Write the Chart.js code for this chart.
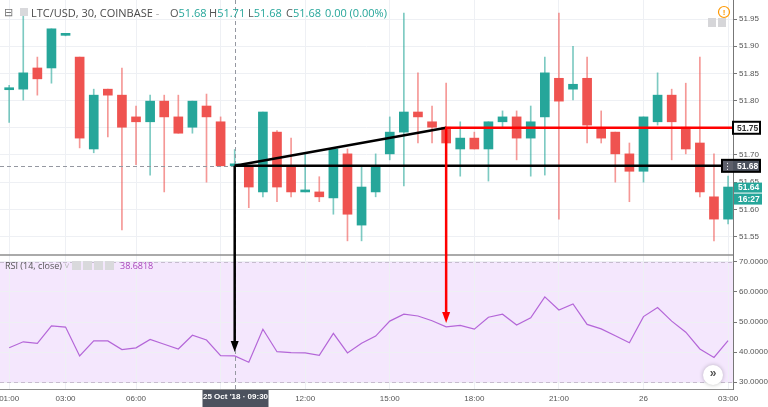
<!DOCTYPE html>
<html>
<head>
<meta charset="utf-8">
<script src="https://cdn.jsdelivr.net/npm/chart.js@4/dist/chart.umd.min.js"></script>
<style>
  body { margin: 0; background: #fff; }
  #wrap { position: relative; width: 768px; height: 407px; overflow: hidden; }
  #chart { position: absolute; left: 0; top: 0; }
  .lg { position: absolute; white-space: nowrap; font-family: "Open Sans", sans-serif; color: #4a4a4a; }
  .lg span { position: absolute; top: 0; }
  .v { color: #26a69a; }
  .k { color: #555; }
  .ico { display: inline-block; background: #d9d9dc; }
</style>
</head>
<body>
<div id="wrap">
  <canvas id="chart" width="768" height="407"></canvas>
  <div class="lg" style="left:0;top:5px;font-size:11px;height:16px;width:400px">
    <span style="left:4px;top:-1px;color:#777">&#8863;</span>
    <span style="left:20px;top:3px;width:8px;height:8px" class="ico"></span>
    <span style="left:31px">LTC/USD, 30, COINBASE <span style="position:static;color:#aaa">-</span></span>
    <span style="left:170px"><b class="k" style="font-weight:normal">O</b><span class="v" style="position:static">51.68</span></span>
    <span style="left:209px"><b class="k" style="font-weight:normal">H</b><span class="v" style="position:static">51.71</span></span>
    <span style="left:248px"><b class="k" style="font-weight:normal">L</b><span class="v" style="position:static">51.68</span></span>
    <span style="left:286px"><b class="k" style="font-weight:normal">C</b><span class="v" style="position:static">51.68</span></span>
    <span style="left:325px" class="v">0.00 (0.00%)</span>
  </div>
  <div class="lg" style="left:0;top:259px;font-size:9px;height:13px;width:200px">
    <span style="left:5px;color:#555">RSI (14, close) <span style="position:static;color:#bbb">&#709;</span></span>
    <span style="left:72px;top:2px;width:9px;height:9px" class="ico"></span>
    <span style="left:83px;top:2px;width:9px;height:9px" class="ico"></span>
    <span style="left:94px;top:2px;width:9px;height:9px" class="ico"></span>
    <span style="left:105px;top:2px;width:9px;height:9px" class="ico"></span>
    <span style="left:120px;color:#ab47bc">38.6818</span>
  </div>
</div>
<script>
// 30-minute candles, LTC/USD (Coinbase), 25-26 Oct 2018
const categories = ["01:00","01:30","02:00","02:30","03:00","03:30","04:00","05:00","05:30","06:00",
  "06:30","07:00","07:30","08:00","08:30","09:00","09:30","10:00","10:30","11:00",
  "11:30","12:00","12:30","13:00","13:30","14:00","14:30","15:00","15:30","16:00",
  "16:30","17:00","17:30","18:00","18:30","19:00","19:30","20:00","20:30","21:00",
  "21:30","22:00","22:30","23:00","23:30","00:00","00:30","01:00","01:30","02:00",
  "02:30","03:00"];
const open = [51.820,51.821,51.860,51.860,51.920,51.880,51.711,51.821,51.810,51.770,
  51.761,51.799,51.770,51.751,51.790,51.761,51.680,51.680,51.632,51.742,
  51.680,51.632,51.632,51.621,51.702,51.571,51.632,51.702,51.742,51.779,
  51.761,51.751,51.711,51.731,51.711,51.761,51.770,51.731,51.770,51.841,
  51.821,51.841,51.750,51.742,51.702,51.670,51.761,51.810,51.751,51.722,
  51.623,51.582];
const high = [51.828,51.961,51.880,51.932,51.921,51.880,51.821,51.821,51.860,51.790,
  51.810,51.810,51.810,51.799,51.812,51.770,51.710,51.680,51.779,51.745,
  51.731,51.702,51.660,51.711,51.711,51.678,51.702,51.770,51.961,51.851,
  51.790,51.832,51.761,51.742,51.761,51.781,51.781,51.790,51.880,51.961,
  51.900,51.880,51.781,51.742,51.722,51.770,51.851,51.821,51.832,51.880,
  51.702,51.661];
const low = [51.760,51.801,51.810,51.832,51.919,51.713,51.704,51.733,51.562,51.682,
  51.663,51.632,51.740,51.740,51.650,51.680,51.680,51.603,51.623,51.614,
  51.623,51.632,51.614,51.591,51.542,51.542,51.623,51.691,51.643,51.722,
  51.722,51.722,51.661,51.711,51.652,51.751,51.691,51.661,51.663,51.582,
  51.801,51.722,51.722,51.650,51.614,51.650,51.755,51.691,51.702,51.623,
  51.542,51.573];
const close = [51.821,51.851,51.840,51.932,51.920,51.731,51.810,51.810,51.751,51.761,
  51.799,51.770,51.740,51.799,51.770,51.680,51.680,51.641,51.779,51.641,
  51.632,51.633,51.623,51.711,51.591,51.641,51.678,51.742,51.779,51.770,
  51.751,51.722,51.731,51.711,51.761,51.770,51.731,51.761,51.851,51.799,
  51.830,51.755,51.731,51.702,51.670,51.770,51.810,51.761,51.711,51.632,
  51.582,51.641];
const rsi = [41.4,43.4,42.9,48.7,48.3,38.7,43.7,43.7,40.8,41.4,
  44.2,42.6,41.0,45.6,44.0,38.8,38.7,36.6,47.6,40.1,
  39.8,39.7,38.9,46.2,39.7,42.9,45.3,50.3,52.6,52.0,
  50.4,48.4,48.9,47.6,51.6,52.6,49.0,51.4,58.4,54.0,
  56.0,49.2,47.7,45.4,43.1,51.8,54.8,50.3,46.6,41.0,
  38.2,43.8];

// Achsen-Beschriftungen
const tickIndex = [0, 4, 9, 15, 21, 27, 33, 39, 45, 51];
const tickText = ["01:00","03:00","06:00","09:00","12:00","15:00","18:00","21:00","26","03:00"];
const priceTicks = [51.55, 51.60, 51.65, 51.70, 51.75, 51.80, 51.85, 51.90, 51.95];
const rsiTicks = [30, 40, 50, 60, 70];

// Zeichnungen auf dem Chart (Index, Preis, Pfeilspitze im RSI)
const markIndex = [16, 31];
const markPrice = [51.68, 51.75];
const arrowTip = [40.0, 49.7];
const lastPrice = 51.64;
const countdown = "16:27";
const crossLabel = "25 Oct '18 \u00b7 09:30";

const green = "#26a69a";
const red = "#ef5350";
const gridColor = "#eef0f4";
const up = open.map((o, i) => close[i] >= o);

function box(ctx, x, y, w, h, fill, stroke, text, color) {
  ctx.fillStyle = fill;
  ctx.fillRect(x, y, w, h);
  if (stroke) {
    ctx.strokeStyle = stroke;
    ctx.lineWidth = 2;
    ctx.strokeRect(x, y, w, h);
  }
  ctx.fillStyle = color;
  ctx.font = "bold 8.5px 'Liberation Sans', Arial, sans-serif";
  ctx.textAlign = "left";
  ctx.textBaseline = "middle";
  ctx.fillText(text, x + 4, y + h / 2 + 0.5);
}

function arrow(ctx, x, y1, y2, color) {
  ctx.strokeStyle = color;
  ctx.fillStyle = color;
  ctx.lineWidth = 2.5;
  ctx.beginPath();
  ctx.moveTo(x, y1);
  ctx.lineTo(x, y2 - 9);
  ctx.stroke();
  ctx.beginPath();
  ctx.moveTo(x - 4, y2 - 11);
  ctx.lineTo(x + 4, y2 - 11);
  ctx.lineTo(x, y2);
  ctx.closePath();
  ctx.fill();
}

// keine automatische Randpolsterung der Achsen
function noPad(s) {
  s.paddingTop = 0; s.paddingBottom = 0; s.paddingLeft = 0; s.paddingRight = 0;
}

const overlay = {
  id: "overlay",
  beforeDraw(chart) {
    // RSI-Band 30..70
    const { ctx, chartArea, scales } = chart;
    const t = scales.yr.getPixelForValue(70), b = scales.yr.getPixelForValue(30);
    ctx.save();
    ctx.fillStyle = "#f4e7fd";
    ctx.fillRect(chartArea.left, t, chartArea.right - chartArea.left, b - t);
    ctx.restore();
  },
  afterDraw(chart) {
    const { ctx, chartArea, scales } = chart;
    const L = chartArea.left, R = chartArea.right;
    ctx.save();

    // RSI 70/30 gestrichelt
    ctx.setLineDash([4, 3]);
    ctx.strokeStyle = "#c7bccf";
    ctx.lineWidth = 1;
    [70, 30].forEach(v => {
      const y = Math.round(scales.yr.getPixelForValue(v)) + 0.5;
      ctx.beginPath(); ctx.moveTo(L, y); ctx.lineTo(R, y); ctx.stroke();
    });

    // Fadenkreuz
    const cx = Math.round(scales.x.getPixelForValue(markIndex[0])) + 0.5;
    const cy = Math.round(scales.y.getPixelForValue(markPrice[0])) + 0.5;
    ctx.strokeStyle = "#9598a1";
    ctx.beginPath(); ctx.moveTo(cx, chartArea.top); ctx.lineTo(cx, chartArea.bottom); ctx.stroke();
    ctx.beginPath(); ctx.moveTo(L, cy); ctx.lineTo(cx, cy); ctx.stroke();
    ctx.setLineDash([]);

    // Trennlinie zwischen Preis und RSI
    const sep = scales.y.bottom;
    ctx.strokeStyle = "#8e8e8e";
    ctx.lineWidth = 1.5;
    ctx.beginPath(); ctx.moveTo(L, sep); ctx.lineTo(R, sep); ctx.stroke();

    // Trendlinie + Linien
    const x0 = scales.x.getPixelForValue(markIndex[0]);
    const x1 = scales.x.getPixelForValue(markIndex[1]);
    const y0 = scales.y.getPixelForValue(markPrice[0]);
    const y1 = scales.y.getPixelForValue(markPrice[1]);
    ctx.lineWidth = 2.5;
    ctx.strokeStyle = "#000";
    ctx.beginPath(); ctx.moveTo(x0, y0); ctx.lineTo(x1, y1); ctx.stroke();
    ctx.beginPath(); ctx.moveTo(x0, y0); ctx.lineTo(R, y0); ctx.stroke();
    arrow(ctx, x0, y0, scales.yr.getPixelForValue(arrowTip[0]), "#000");
    ctx.strokeStyle = "#ff0000";
    ctx.lineWidth = 2.5;
    ctx.beginPath(); ctx.moveTo(x1 - 1, y1); ctx.lineTo(R, y1); ctx.stroke();
    arrow(ctx, x1, y1, scales.yr.getPixelForValue(arrowTip[1]), "#ff0000");

    // Preis-Markierungen an der Achse
    box(ctx, R, y1 - 6, 27, 12, "#fff", "#000", markPrice[1].toFixed(2), "#333");
    ctx.fillStyle = "#5d606b";
    ctx.fillRect(R - 11, y0 - 6, 11, 12);
    ctx.fillStyle = "#fff";
    ctx.fillRect(R - 6, y0 - 3, 1, 1); ctx.fillRect(R - 6, y0, 1, 1); ctx.fillRect(R - 6, y0 + 3, 1, 1);
    box(ctx, R, y0 - 6, 27, 12, "#4c525e", null, markPrice[0].toFixed(2), "#fff");
    ctx.strokeStyle = "#000"; ctx.lineWidth = 2;
    ctx.strokeRect(R - 11, y0 - 6, 38, 12);
    const yl = scales.y.getPixelForValue(lastPrice);
    box(ctx, R + 1, yl - 5, 28, 10, green, null, lastPrice.toFixed(2), "#fff");
    box(ctx, R + 1, yl + 6, 28, 11, green, null, countdown, "#fff");

    // Zeit-Label unten
    const bw = 66;
    ctx.fillStyle = "#4c525e";
    ctx.fillRect(cx - bw / 2, chartArea.bottom + 1, bw, 18);
    ctx.fillStyle = "#fff";
    ctx.font = "bold 8px 'Liberation Sans', Arial, sans-serif";
    ctx.textAlign = "center";
    ctx.textBaseline = "middle";
    ctx.fillText(crossLabel, cx, chartArea.bottom + 8);

    // kleine Symbole
    ctx.strokeStyle = "#ff9800"; ctx.lineWidth = 1.2;
    ctx.beginPath(); ctx.arc(724, 12, 5.5, 0, Math.PI * 2); ctx.stroke();
    ctx.fillStyle = "#ff9800"; ctx.font = "bold 8px Arial";
    ctx.fillText("!", 724, 12.5);
    ctx.fillStyle = "#d6d6d9";
    ctx.fillRect(708, 18, 8, 9); ctx.fillRect(718, 18, 8, 9);
    ctx.shadowColor = "rgba(0,0,0,0.25)"; ctx.shadowBlur = 4;
    ctx.fillStyle = "#fff";
    ctx.beginPath(); ctx.arc(713, 375, 10, 0, Math.PI * 2); ctx.fill();
    ctx.shadowBlur = 0;
    ctx.fillStyle = "#555"; ctx.font = "bold 12px Arial";
    ctx.fillText("\u00bb", 713, 374);
    ctx.restore();
  }
};

const tickFont = { family: "'Liberation Sans', Arial, sans-serif", size: 8 };

new Chart(document.getElementById("chart").getContext("2d"), {
  type: "bar",
  data: {
    datasets: [
      {
        label: "Docht",
        yAxisID: "y",
        data: categories.map((c, i) => ({ x: i, y: [low[i], high[i]] })),
        backgroundColor: up.map(u => u ? "rgba(38,166,154,0.6)" : "rgba(239,83,80,0.6)"),
        barThickness: 1,
        grouped: false,
        order: 2
      },
      {
        label: "Kerze",
        yAxisID: "y",
        data: categories.map((c, i) => ({ x: i, y: [open[i], close[i]] })),
        backgroundColor: up.map(u => u ? green : red),
        barThickness: 9,
        minBarLength: 2,
        grouped: false,
        order: 1
      },
      {
        type: "line",
        label: "RSI",
        yAxisID: "yr",
        data: categories.map((c, i) => ({ x: i, y: rsi[i] })),
        borderColor: "#b466d8",
        borderWidth: 1.2,
        pointRadius: 0,
        tension: 0,
        order: 0
      }
    ]
  },
  options: {
    responsive: false,
    animation: false,
    devicePixelRatio: 1,
    layout: { padding: 0 },
    plugins: { legend: { display: false }, tooltip: { enabled: false } },
    scales: {
      x: {
        type: "linear",
        min: -0.65,
        max: 51.35,
        offset: false,
        grid: { color: gridColor, drawTicks: false, offset: false },
        border: { color: "#8e8e8e" },
        ticks: {
          font: tickFont, color: "#555", padding: 5, maxRotation: 0, autoSkip: false,
          callback: v => { const k = tickIndex.indexOf(v); return k < 0 ? "" : tickText[k]; }
        },
        afterBuildTicks: s => { s.ticks = tickIndex.map(v => ({ value: v })); },
        afterFit: s => { s.height = 18; noPad(s); }
      },
      y: {
        position: "right",
        stack: "pane",
        stackWeight: 255,
        min: 51.516,
        max: 51.985,
        grid: { color: gridColor, tickLength: 4, tickColor: "#777" },
        border: { color: "#777" },
        ticks: { font: tickFont, color: "#555", padding: 2, callback: v => v.toFixed(2) },
        afterBuildTicks: s => { s.ticks = priceTicks.map(v => ({ value: v })); },
        afterFit: s => { s.width = 35; noPad(s); }
      },
      yr: {
        position: "right",
        stack: "pane",
        stackWeight: 134,
        min: 27.67,
        max: 72.33,
        grid: { color: gridColor, tickLength: 4, tickColor: "#777" },
        border: { color: "#777" },
        ticks: { font: tickFont, color: "#555", padding: 2, callback: v => v.toFixed(4) },
        afterBuildTicks: s => { s.ticks = rsiTicks.map(v => ({ value: v })); },
        afterFit: s => { s.width = 35; noPad(s); }
      }
    }
  },
  plugins: [overlay]
});
</script>
</body>
</html>
